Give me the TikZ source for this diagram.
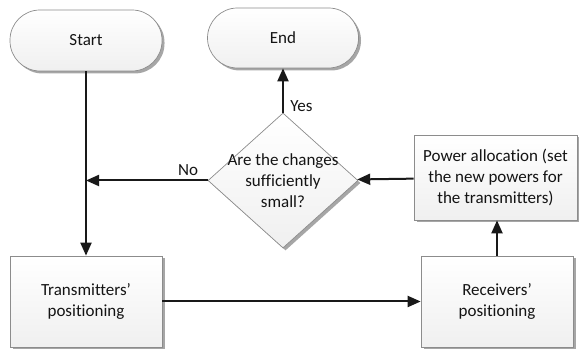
\documentclass[tikz,border=0pt]{standalone}
\usepackage{fontspec}
\setmainfont{Carlito}[Ligatures=NoCommon]
\usetikzlibrary{shapes.geometric}
\usetikzlibrary{shadows}
\usetikzlibrary{arrows.meta}
\tikzset{x=1pt,y=1pt,
    every node/.style={
        font=\fontsize{17}{21}\selectfont,
        text=black!92},
    box/.style={
        draw=gray!90,
        line width=0.7pt,
        top color=white,
        bottom color=gray!12,
        drop shadow={shadow xshift=2.5pt,shadow yshift=-2.5pt,fill=gray!70,opacity=1},
        align=center},
    terminal/.style={
        box,
        rounded corners=30pt,
        minimum width=152pt,
        minimum height=61pt},
    process/.style={
        box,
        minimum width=152pt,
        minimum height=91pt},
    decision/.style={
        box,
        diamond,
        inner sep=0pt,
        minimum width=150pt,
        minimum height=135pt},
    every edge/.style={
        draw,
        -{Triangle[length=13pt,width=11pt]},
        line width=2pt,
        black!90}}
\begin{document}
\begin{tikzpicture}
        \useasboundingbox (0,0) rectangle (579,352);

        \node[terminal] (start) at (86,311.5) {Start};
        \node[terminal,minimum width=151pt,minimum height=60pt] (stop) at (283,314) {End};
        \node[decision,label={[align=center]center:Are the changes\\sufficiently\\small?}] (check) at (283,171.5) {};
        \node[process,minimum width=163pt,minimum height=85pt] (power) at (495.5,174.5)
            {Power allocation (set\\the new powers for\\the transmitters)};
        \node[process] (trans) at (86,50.5) {Transmitters'\\positioning};
        \node[process] (recv) at (497,50.5) {Receivers'\\positioning};
        \coordinate (join) at (86,171.5);

        \draw (start) edge (trans);
        \draw (trans) edge (recv);
        \draw (recv.north) edge (recv.north |- power.south);
        \draw (power) edge (check);
        \draw (check.west) edge node[pos=0.16,above=1pt] {No} (join);
        \draw (check.north) edge node[pos=0.14,right=3pt] {Yes} (stop.south);
    \end{tikzpicture}
\end{document}
